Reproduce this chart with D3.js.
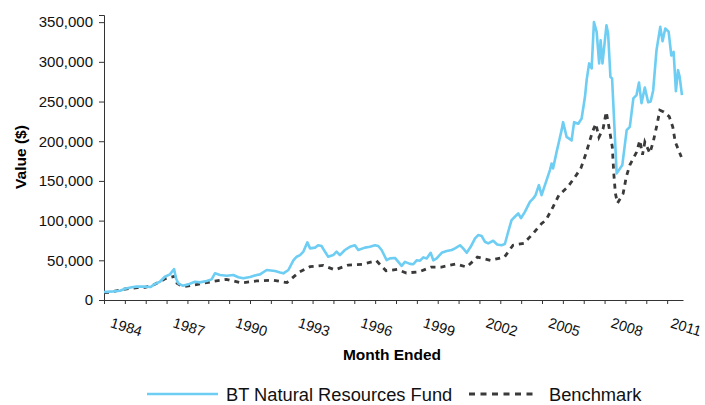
<!DOCTYPE html>
<html><head><meta charset="utf-8">
<script src="https://cdn.jsdelivr.net/npm/d3@7"></script>
<style>body{margin:0;background:#fff}svg{display:block;font-family:Arial,"Liberation Sans",sans-serif}</style>
</head><body><svg width="705" height="405"></svg>
<script>
const seriesNames = ["BT Natural Resources Fund", "Benchmark"];
const yearLabels = [1984, 1987, 1990, 1993, 1996, 1999, 2002, 2005, 2008, 2011];
const yTickValues = [0, 50000, 100000, 150000, 200000, 250000, 300000, 350000];

const fundDates = [1983.00,1983.45,1983.77,1984.01,1984.33,1984.57,1984.97,1985.24,1985.40,1985.68,1985.92,1986.16,1986.36,1986.45,1986.56,1986.77,1987.04,1987.36,1987.60,1987.92,1988.16,1988.32,1988.56,1988.88,1989.20,1989.44,1989.68,1990.00,1990.32,1990.48,1990.80,1991.20,1991.44,1991.60,1991.84,1992.08,1992.24,1992.40,1992.56,1992.75,1992.88,1993.12,1993.27,1993.43,1993.59,1993.75,1993.99,1994.15,1994.31,1994.55,1994.79,1995.03,1995.19,1995.51,1995.75,1995.99,1996.15,1996.31,1996.55,1996.71,1996.95,1997.27,1997.43,1997.67,1997.83,1997.99,1998.15,1998.31,1998.47,1998.66,1998.79,1998.95,1999.19,1999.43,1999.67,1999.83,2000.07,2000.22,2000.39,2000.58,2000.79,2000.94,2001.11,2001.26,2001.42,2001.66,2001.85,2002.06,2002.22,2002.38,2002.54,2002.70,2002.86,2002.99,2003.18,2003.42,2003.58,2003.69,2003.85,2003.98,2004.22,2004.38,2004.46,2004.53,2004.70,2004.81,2004.94,2005.01,2005.18,2005.42,2005.54,2005.74,2005.90,2006.06,2006.14,2006.26,2006.38,2006.49,2006.62,2006.74,2006.81,2006.90,2007.09,2007.17,2007.28,2007.36,2007.58,2007.74,2007.85,2008.06,2008.21,2008.38,2008.53,2008.65,2008.77,2008.93,2009.09,2009.21,2009.33,2009.49,2009.67,2009.78,2009.91,2010.07,2010.20,2010.31,2010.42,2010.52,2010.60,2010.71];
const fundValues = [10100,10900,11700,14200,16000,16800,16800,16400,19700,23000,29300,32300,39000,27300,21000,18000,19700,23000,22200,23900,26000,33600,31500,30600,31500,28600,27300,29000,31500,32300,37800,36500,34600,33600,37800,50000,54500,56600,61000,72600,65000,66000,69000,68000,61000,54500,56600,61000,56600,63000,67000,69000,63000,66000,67000,69000,68000,63000,50300,52400,53000,43000,48000,45500,45000,50000,49500,53700,52400,59500,50000,52400,59500,61700,63000,65000,69000,65000,59500,67000,77700,81800,80600,73400,71400,74600,70000,69000,70500,86000,100700,104900,109000,103000,111000,123700,128000,132000,144700,132000,151000,163600,172000,165700,186600,199000,214000,224000,205500,201000,224000,222000,228700,256000,277000,298000,291600,350000,337700,298000,327000,298000,346000,335600,281000,279000,159500,165700,170000,214000,218000,254000,258000,274000,248000,267500,249000,250000,264000,314700,344000,326000,342000,338000,308000,312500,263000,289500,281000,258000];

const benchDates = [1983.00,1983.25,1983.89,1984.60,1984.97,1985.37,1985.95,1986.40,1986.50,1986.81,1987.48,1988.15,1988.87,1989.59,1990.32,1991.08,1991.77,1992.35,1992.88,1993.51,1994.07,1994.71,1995.37,1996.06,1996.52,1997.06,1997.50,1998.12,1998.68,1999.18,1999.87,2000.39,2000.90,2001.53,2002.20,2002.61,2003.13,2003.58,2003.97,2004.19,2004.53,2004.81,2005.22,2005.53,2005.86,2006.11,2006.42,2006.58,2006.73,2006.93,2007.08,2007.21,2007.37,2007.44,2007.52,2007.62,2007.89,2008.04,2008.21,2008.53,2008.69,2008.82,2008.93,2009.17,2009.33,2009.49,2009.65,2009.84,2010.10,2010.27,2010.39,2010.53,2010.68];
const benchValues = [9200,9500,13400,15500,16000,18900,27000,30000,21000,16800,19700,23000,26000,21500,24000,25000,22000,35000,42000,43500,38000,44000,45000,49500,36800,38500,34000,35600,41500,41500,45500,41500,54000,50000,54000,69000,71400,84000,96000,100700,117400,132000,142000,153000,165700,184600,212000,222000,205000,216000,237000,218000,193000,160000,134000,122000,134000,155000,170000,186000,201000,183000,199000,185000,199000,218000,239000,237000,231000,218000,199000,190000,180000];

const fundColor = "#6dcdf3";
const benchColor = "#3a3a3a";
const svg = d3.select("svg");

const x = d3.scaleLinear().domain([1983, 2010.76]).range([104, 683]);
const y = d3.scaleLinear().domain([0, 359000]).range([300, 15]);

// y axis
const yAxis = svg.append("g").attr("transform", "translate(104,0)")
  .call(d3.axisLeft(y).tickValues(yTickValues).tickSize(5).tickPadding(6).tickFormat(d3.format(",")));
yAxis.selectAll("text").attr("font-size", 15).attr("fill", "#111").attr("font-family", "Arial, 'Liberation Sans', sans-serif");
yAxis.selectAll("line,path").attr("stroke", "#333");

// x axis
const xAxis = svg.append("g").attr("transform", "translate(0,300)")
  .call(d3.axisBottom(x).tickValues(d3.range(1983, 2011)).tickSize(4).tickSizeOuter(0).tickFormat(""));
xAxis.selectAll("line,path").attr("stroke", "#333");

svg.append("g").selectAll("text").data(yearLabels).join("text")
  .attr("transform", d => `translate(${Math.min(x(d) + 1.5, 686)},327) rotate(17)`)
  .attr("text-anchor", "middle").attr("dominant-baseline", "central")
  .attr("font-size", 14.5).attr("fill", "#111").text(d => d);

// axis titles
svg.append("text").attr("x", 392).attr("y", 354).attr("text-anchor", "middle")
  .attr("dominant-baseline", "central").attr("font-weight", "bold").attr("font-size", 15.5)
  .text("Month Ended");
svg.append("text").attr("transform", "translate(20,157) rotate(-90)").attr("text-anchor", "middle")
  .attr("dominant-baseline", "central").attr("font-weight", "bold").attr("font-size", 15.5)
  .text("Value ($)");

// lines
const fundData = fundDates.map((d, i) => [d, fundValues[i]]);
const benchData = benchDates.map((d, i) => [d, benchValues[i]]);
const line = d3.line().x(d => x(d[0])).y(d => y(d[1]));

svg.append("path").datum(benchData).attr("d", line).attr("fill", "none")
  .attr("stroke", benchColor).attr("stroke-width", 2.8).attr("stroke-dasharray", "5,5");
svg.append("path").datum(fundData).attr("d", line).attr("fill", "none")
  .attr("stroke", fundColor).attr("stroke-width", 2.6).attr("stroke-linejoin", "round");

// legend
const ly = 394;
const lg = svg.append("g");
lg.append("line").attr("x1", 147).attr("x2", 218).attr("y1", ly).attr("y2", ly)
  .attr("stroke", fundColor).attr("stroke-width", 2.6);
lg.append("text").attr("x", 226).attr("y", ly).attr("dominant-baseline", "central")
  .attr("font-size", 18.3).attr("fill", "#111").text(seriesNames[0]);
lg.append("line").attr("x1", 469).attr("x2", 537).attr("y1", ly).attr("y2", ly)
  .attr("stroke", benchColor).attr("stroke-width", 2.8).attr("stroke-dasharray", "6,5.5");
lg.append("text").attr("x", 549).attr("y", ly).attr("dominant-baseline", "central")
  .attr("font-size", 18.3).attr("fill", "#111").text(seriesNames[1]);
</script></body></html>
